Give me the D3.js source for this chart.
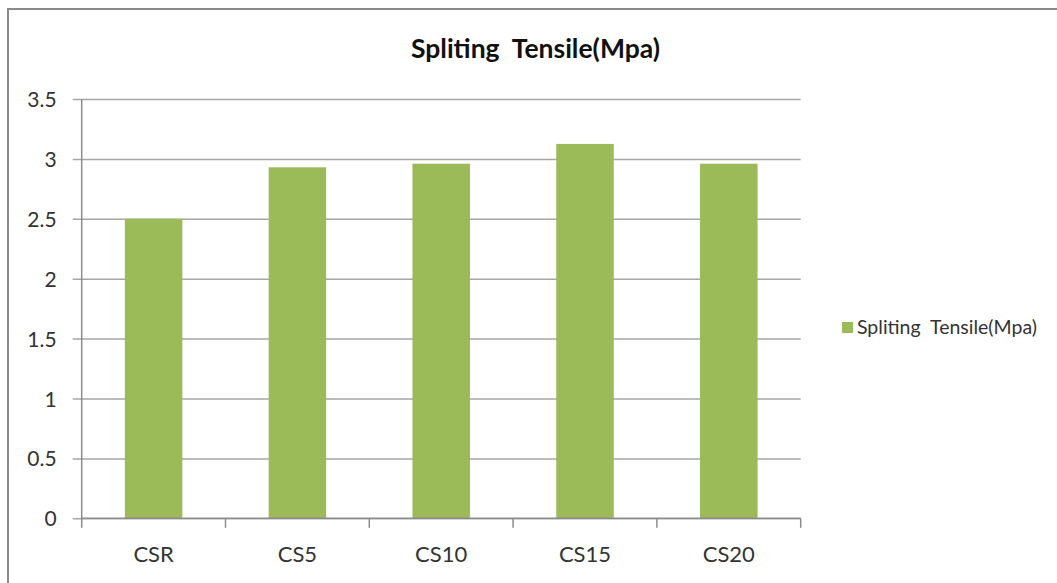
<!DOCTYPE html>
<html>
<head>
<meta charset="utf-8">
<script src="https://cdn.jsdelivr.net/npm/d3@7/dist/d3.min.js"></script>
<style>
  html, body { margin: 0; padding: 0; background: #fff; }
  svg { display: block; }
</style>
</head>
<body>
<div id="chart"></div>
<script>
// Splitting tensile strength per mix
const categories = ["CSR", "CS5", "CS10", "CS15", "CS20"];
const tensileValues = [2.5, 2.93, 2.96, 3.125, 2.96];
const yTicks = [0, 0.5, 1, 1.5, 2, 2.5, 3, 3.5];
const yTickLabels = ["0", "0.5", "1", "1.5", "2", "2.5", "3", "3.5"];
const seriesName = "Spliting  Tensile(Mpa)";
const chartTitle = "Spliting  Tensile(Mpa)";

const W = 1057, H = 583;
const plot = { left: 81.7, right: 800.7, top: 99, bottom: 518.3 };
const font = "Lato, 'Open Sans', sans-serif";
const green = "#9BBB59";

const svg = d3.select("#chart").append("svg")
  .attr("width", W).attr("height", H);

// chart frame (top and left edges)
svg.append("rect").attr("x", 7).attr("y", 8).attr("width", W).attr("height", 2).attr("fill", "#8a8a8a");
svg.append("rect").attr("x", 7).attr("y", 8).attr("width", 2).attr("height", H).attr("fill", "#8a8a8a");

const x = d3.scaleBand().domain(categories).range([plot.left, plot.right]).paddingInner(0.6).paddingOuter(0.3);
const xb = d3.scaleBand().domain(categories).range([plot.left, plot.right]);
const y = d3.scaleLinear().domain([0, 3.5]).range([plot.bottom, plot.top]);

// horizontal gridlines with left tick stubs
const yAxis = d3.axisLeft(y)
  .tickValues(yTicks)
  .tickFormat((d, i) => yTickLabels[i])
  .tickSize(-(plot.right - plot.left))
  .tickPadding(25);
const gy = svg.append("g").attr("transform", `translate(${plot.left},0)`).call(yAxis);
gy.select(".domain").remove();
gy.selectAll(".tick line").attr("x1", -9).attr("stroke", "#a6a6a6").attr("stroke-width", 1.5);
gy.selectAll(".tick text")
  .attr("font-family", font).attr("font-size", 21).attr("fill", "#333")
  .attr("dy", "0.36em");

// y axis line
svg.append("line")
  .attr("x1", plot.left).attr("x2", plot.left)
  .attr("y1", plot.top).attr("y2", plot.bottom)
  .attr("stroke", "#8c8c8c").attr("stroke-width", 1.5);

// bars
svg.append("g").selectAll("rect").data(tensileValues).join("rect")
  .attr("x", (d, i) => x(categories[i]))
  .attr("width", x.bandwidth())
  .attr("y", d => y(d))
  .attr("height", d => y(0) - y(d))
  .attr("fill", green);

// x axis with tick marks at band boundaries
svg.append("line")
  .attr("x1", plot.left).attr("x2", plot.right)
  .attr("y1", plot.bottom).attr("y2", plot.bottom)
  .attr("stroke", "#8c8c8c").attr("stroke-width", 1.5);
const boundaries = categories.map(c => xb(c)).concat([plot.right]);
svg.append("g").selectAll("line").data(boundaries).join("line")
  .attr("x1", d => d).attr("x2", d => d)
  .attr("y1", plot.bottom).attr("y2", plot.bottom + 9.5)
  .attr("stroke", "#8c8c8c").attr("stroke-width", 1.5);

svg.append("g").selectAll("text").data(categories).join("text")
  .attr("x", d => xb(d) + xb.bandwidth() / 2)
  .attr("y", 561.5)
  .attr("text-anchor", "middle")
  .attr("font-family", font).attr("font-size", 22).attr("fill", "#333")
  .text(d => d);

// title
svg.append("text")
  .attr("x", 535.5).attr("y", 57.5)
  .attr("text-anchor", "middle")
  .attr("font-family", font).attr("font-size", 26.5).attr("font-weight", "bold")
  .attr("fill", "#111")
  .style("white-space", "pre")
  .text(chartTitle);

// legend
const lg = svg.append("g").attr("transform", "translate(842,322)");
lg.append("rect").attr("width", 11).attr("height", 11).attr("fill", green);
lg.append("text")
  .attr("x", 15).attr("y", 12)
  .attr("font-family", font).attr("font-size", 19.5).attr("fill", "#333")
  .style("white-space", "pre")
  .text(seriesName);
</script>
</body>
</html>
